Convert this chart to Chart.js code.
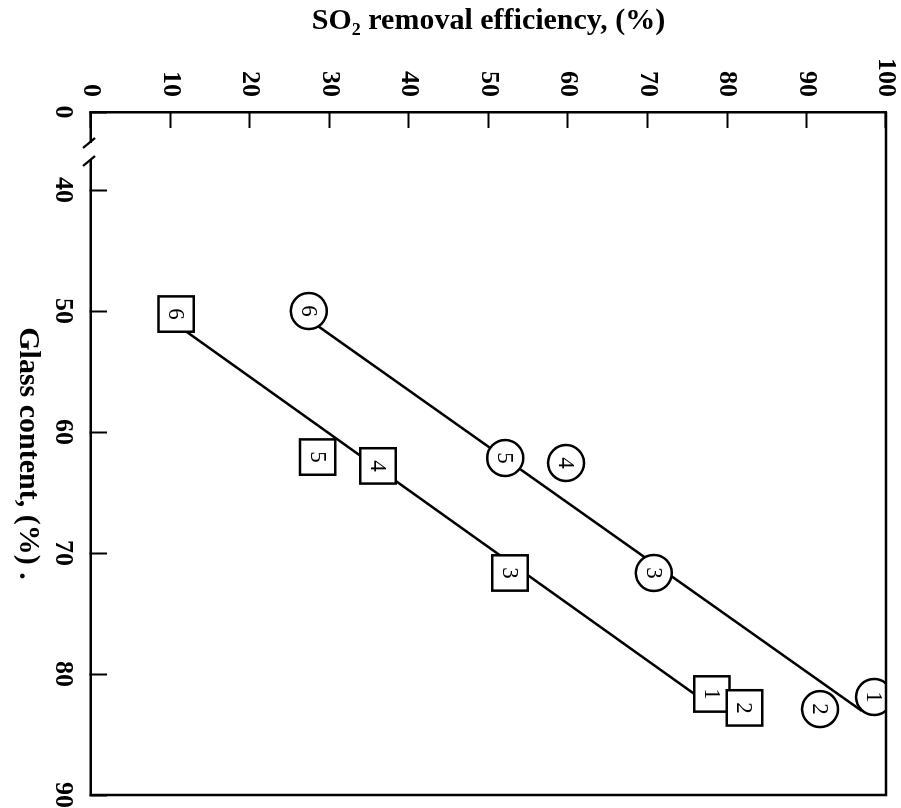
<!DOCTYPE html>
<html>
<head>
<meta charset="utf-8">
<script src="https://cdn.jsdelivr.net/npm/chart.js@4.4.1/dist/chart.umd.min.js"></script>
<style>
html,body{margin:0;padding:0;background:#fff;}
#wrap{position:relative;width:901px;height:808px;overflow:hidden;background:#fff;}
#c{position:absolute;left:0;top:0;transform-origin:0 0;transform:translateX(901px) rotate(90deg);}
</style>
</head>
<body>
<div id="wrap"><canvas id="c" width="808" height="901"></canvas></div>
<script>
// Axis ticks (the glass axis is broken: the first tick, labelled "0", sits just before 40)
const glassTickValues = [33.55, 40, 50, 60, 70, 80, 90];
const glassTickLabels = ['0', '40', '50', '60', '70', '80', '90'];
const so2TickValues = [0, 10, 20, 30, 40, 50, 60, 70, 80, 90, 100];
const so2TickLabels = ['0', '10', '20', '30', '40', '50', '60', '70', '80', '90', '100'];

// Square-marked runs
const squareIds = ['6', '5', '4', '3', '1', '2'];
const squareGlass = [50.25, 62.07, 62.8, 71.65, 81.65, 82.8];
const squareSO2 = [10.7, 28.5, 36.1, 52.7, 78.1, 82.2];

// Circle-marked runs
const circleIds = ['6', '5', '4', '3', '2', '1'];
const circleGlass = [50.0, 62.15, 62.56, 71.65, 82.9, 81.9];
const circleSO2 = [27.4, 52.1, 59.75, 70.8, 91.7, 98.5];

// Fitted lines (end points)
const squareFitGlass = [51.09, 82.69];
const squareFitSO2 = [10.69, 78.11];
const circleFitGlass = [50.72, 83.06];
const circleFitSO2 = [27.42, 96.98];

const pts = (xs, ys) => xs.map((v, i) => ({x: v, y: ys[i]}));
const FONT = '"Liberation Serif", "Times New Roman", serif';

const framePlugin = {
  id: 'frame',
  afterDraw(chart) {
    const {ctx, chartArea: a} = chart;
    ctx.save();
    ctx.strokeStyle = '#000';
    ctx.lineWidth = 2.5;
    ctx.beginPath();
    ctx.moveTo(a.left, a.top);
    ctx.lineTo(a.right, a.top);
    ctx.lineTo(a.right, a.bottom);
    ctx.stroke();
    // axis break on the glass-content axis
    ctx.fillStyle = '#fff';
    ctx.fillRect(a.left + 31, a.bottom - 3, 17, 6);
    ctx.lineWidth = 2.2;
    ctx.beginPath();
    ctx.moveTo(a.left + 36, a.bottom + 8);
    ctx.lineTo(a.left + 26, a.bottom - 4);
    ctx.moveTo(a.left + 54, a.bottom + 8);
    ctx.lineTo(a.left + 44, a.bottom - 4);
    ctx.stroke();
    ctx.restore();
  }
};

const idPlugin = {
  id: 'ids',
  afterDatasetsDraw(chart) {
    const ctx = chart.ctx;
    ctx.save();
    ctx.font = '23px ' + FONT;
    ctx.fillStyle = '#000';
    ctx.textAlign = 'center';
    ctx.textBaseline = 'middle';
    chart.data.datasets.forEach((ds, i) => {
      const ids = ds.label === 'squares' ? squareIds : ds.label === 'circles' ? circleIds : null;
      if (!ids) return;
      chart.getDatasetMeta(i).data.forEach((p, j) => ctx.fillText(ids[j], p.x, p.y + 1));
    });
    ctx.restore();
  }
};

const noPad = s => { s.paddingLeft = 0; s.paddingRight = 0; s.paddingTop = 0; s.paddingBottom = 0; };

Chart.defaults.color = '#000';

new Chart(document.getElementById('c'), {
  type: 'scatter',
  data: {
    datasets: [
      {
        label: 'squares', data: pts(squareGlass, squareSO2), order: 0,
        pointStyle: 'rect', pointRadius: 25, pointHoverRadius: 25,
        backgroundColor: '#fff', borderColor: '#000', borderWidth: 2.5, clip: 0
      },
      {
        label: 'circles', data: pts(circleGlass, circleSO2), order: 0,
        pointStyle: 'circle', pointRadius: 18, pointHoverRadius: 18,
        backgroundColor: '#fff', borderColor: '#000', borderWidth: 2.5, clip: 0
      },
      {
        label: 'square fit', data: pts(squareFitGlass, squareFitSO2), order: 1,
        showLine: true, pointRadius: 0, borderColor: '#000', borderWidth: 2.5
      },
      {
        label: 'circle fit', data: pts(circleFitGlass, circleFitSO2), order: 1,
        showLine: true, pointRadius: 0, borderColor: '#000', borderWidth: 2.5
      }
    ]
  },
  options: {
    responsive: false,
    animation: false,
    events: [],
    layout: {padding: {top: 15, right: 13, left: 0, bottom: 0}, autoPadding: false},
    plugins: {legend: {display: false}, tooltip: {enabled: false}},
    scales: {
      x: {
        type: 'linear', position: 'bottom',
        min: glassTickValues[0], max: glassTickValues[glassTickValues.length - 1],
        afterBuildTicks: s => { s.ticks = glassTickValues.map(v => ({value: v})); },
        afterFit: s => { s.height = 91; noPad(s); },
        ticks: {
          autoSkip: false, maxRotation: 0, minRotation: 0, padding: 29,
          font: {family: FONT, size: 26, weight: 'bold'},
          callback: (v, i) => glassTickLabels[i]
        },
        grid: {display: true, drawOnChartArea: false, drawTicks: true, tickLength: -16, tickWidth: 2, tickColor: '#000'},
        border: {display: true, width: 2.5, color: '#000'},
        title: {
          display: true, text: 'Glass content, (%) .',
          font: {family: FONT, size: 30, weight: 'bold'},
          padding: {top: 0, bottom: 10}
        }
      },
      y: {
        type: 'linear', position: 'left',
        min: so2TickValues[0], max: so2TickValues[so2TickValues.length - 1],
        afterBuildTicks: s => { s.ticks = so2TickValues.map(v => ({value: v})); },
        afterFit: s => { s.width = 112; noPad(s); },
        ticks: {
          autoSkip: false, padding: 31,
          font: {family: FONT, size: 26, weight: 'bold'},
          callback: (v, i) => so2TickLabels[i]
        },
        grid: {display: true, drawOnChartArea: false, drawTicks: true, tickLength: -16, tickWidth: 2, tickColor: '#000'},
        border: {display: true, width: 2.5, color: '#000'},
        title: {
          display: true, text: 'SO\u2082 removal efficiency, (%)',
          font: {family: FONT, size: 30, weight: 'bold'},
          padding: {top: 3, bottom: 0}
        }
      }
    }
  },
  plugins: [framePlugin, idPlugin]
});
</script>
</body>
</html>
